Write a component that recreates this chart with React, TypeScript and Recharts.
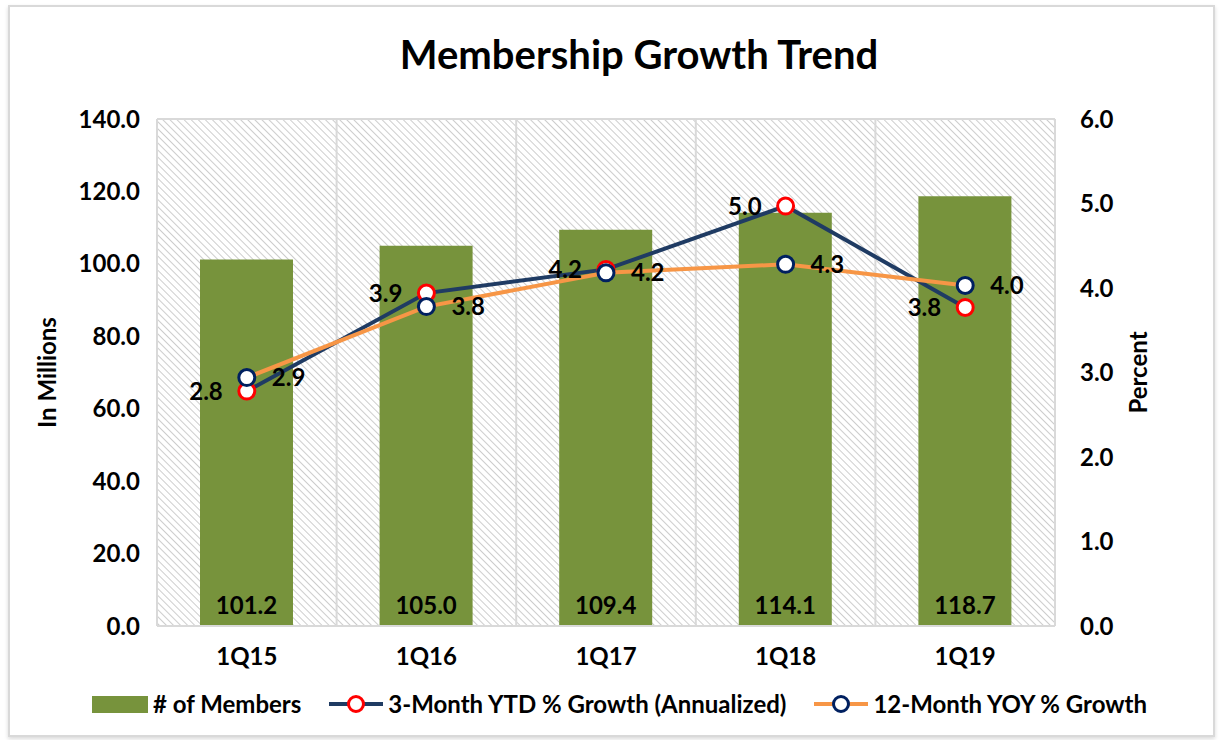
import React from 'react'
import {
  ComposedChart,
  Bar,
  Line,
  XAxis,
  YAxis,
  CartesianGrid,
  Legend,
  LabelList,
} from 'recharts'

const quarters = ['1Q15', '1Q16', '1Q17', '1Q18', '1Q19']
const members = [101.2, 105.0, 109.4, 114.1, 118.7]
const ytdGrowth = [2.78, 3.94, 4.22, 4.97, 3.77]
const yoyGrowth = [2.94, 3.78, 4.18, 4.28, 4.03]
const leftTicks = [0, 20, 40, 60, 80, 100, 120, 140]
const rightTicks = [0, 1, 2, 3, 4, 5, 6]

const FONT = 'Lato, "Open Sans", sans-serif'
const GREEN = '#77933c'
const NAVY = '#1f3b63'
const ORANGE = '#f79646'
const RED = '#ff0000'
const MARKER_NAVY = '#002060'

const data = quarters.map((q, i) => ({
  quarter: q,
  members: members[i],
  ytd: ytdGrowth[i],
  yoy: yoyGrowth[i],
}))

const fmt1 = (v: any) => Number(v).toFixed(1)

const legendItems = [
  { name: '# of Members', kind: 'bar', color: GREEN, marker: '' },
  { name: '3-Month YTD % Growth (Annualized)', kind: 'line', color: NAVY, marker: RED },
  { name: '12-Month YOY % Growth', kind: 'line', color: ORANGE, marker: MARKER_NAVY },
]

function LegendContent() {
  return (
    <div
      style={{
        display: 'flex',
        justifyContent: 'center',
        alignItems: 'center',
        gap: 28,
        fontFamily: FONT,
        fontWeight: 700,
        fontSize: 24,
        color: '#000',
        marginLeft: 48,
      }}
    >
      {legendItems.map((it) => (
        <div key={it.name} style={{ display: 'flex', alignItems: 'center', gap: 5 }}>
          {it.kind === 'bar' ? (
            <svg width={56} height={18}>
              <rect x={0} y={1} width={56} height={17} fill={it.color} />
            </svg>
          ) : (
            <svg width={54} height={20}>
              <line x1={0} y1={10} x2={54} y2={10} stroke={it.color} strokeWidth={4} />
              <circle cx={27} cy={10} r={7.5} fill="#fff" stroke={it.marker} strokeWidth={3} />
            </svg>
          )}
          <span>{it.name}</span>
        </div>
      ))}
    </div>
  )
}

export default function App() {
  const tickStyle = { fontFamily: FONT, fontWeight: 700, fontSize: 24, fill: '#000' }
  const titleStyle = { textAnchor: 'middle', fontFamily: FONT, fontWeight: 700, fontSize: 24, fill: '#000' }
  const valueStyle = { fontFamily: FONT, fontWeight: 700, fontSize: 24, fill: '#000' }
  return (
    <div style={{ position: 'absolute', left: 0, top: 0, width: 1221, height: 740, background: '#fff' }}>
      <div
        style={{
          position: 'absolute',
          left: 8,
          top: 5,
          width: 1203,
          height: 728,
          border: '2px solid #d9d9d9',
          boxShadow: '0 2px 4px rgba(0,0,0,0.15)',
          background: '#fff',
        }}
      />
      <div
        style={{
          position: 'absolute',
          left: 0,
          width: 1278,
          top: 30,
          textAlign: 'center',
          fontFamily: FONT,
          fontWeight: 700,
          fontSize: 40,
          color: '#000',
        }}
      >
        Membership Growth Trend
      </div>
      <div style={{ position: 'absolute', left: 0, top: 0 }}>
        <ComposedChart
          width={1221}
          height={740}
          data={data}
          margin={{ top: 119, right: 60, bottom: 55, left: 30 }}
        >
          <defs>
            <pattern
              id="hatch"
              width={5}
              height={5}
              patternUnits="userSpaceOnUse"
              patternTransform="rotate(-45)"
            >
              <rect width={5} height={5} fill="#fff" />
              <line x1={0} y1={0} x2={0} y2={5} stroke="#c4c4c4" strokeWidth={1.7} />
            </pattern>
          </defs>
          <CartesianGrid
            fill="url(#hatch)"
            stroke="#d9d9d9"
            strokeWidth={2}
            verticalCoordinatesGenerator={({ offset }: any) =>
              quarters.map((_, i) => offset.left + (i * offset.width) / quarters.length).concat(offset.left + offset.width)
            }
          />
          <XAxis
            dataKey="quarter"
            tick={tickStyle}
            tickLine={false}
            axisLine={{ stroke: '#d9d9d9', strokeWidth: 2 }}
            tickMargin={16}
          />
          <YAxis
            yAxisId="left"
            width={127}
            domain={[0, 140]}
            ticks={leftTicks}
            tickFormatter={fmt1}
            tick={tickStyle}
            tickLine={false}
            axisLine={false}
            tickSize={0}
            tickMargin={17}
            label={{ value: 'In Millions', angle: -90, position: 'insideLeft', offset: 17, style: titleStyle }}
          />
          <YAxis
            yAxisId="right"
            orientation="right"
            width={106}
            domain={[0, 6]}
            ticks={rightTicks}
            tickFormatter={fmt1}
            tick={tickStyle}
            tickLine={false}
            axisLine={false}
            tickSize={0}
            tickMargin={25}
            label={{ value: 'Percent', angle: -90, position: 'insideRight', offset: 23, style: titleStyle }}
          />
          <Legend verticalAlign="bottom" content={<LegendContent />} wrapperStyle={{ bottom: 22 }} />
          <Bar
            yAxisId="left"
            dataKey="members"
            name="# of Members"
            fill={GREEN}
            barSize={93}
            isAnimationActive={false}
          >
            <LabelList dataKey="members" position="insideBottom" offset={12} formatter={fmt1} style={valueStyle} />
          </Bar>
          <Line
            yAxisId="right"
            dataKey="ytd"
            name="3-Month YTD % Growth (Annualized)"
            stroke={NAVY}
            strokeWidth={4}
            dot={{ r: 8, fill: '#fff', stroke: RED, strokeWidth: 3 }}
            activeDot={false}
            isAnimationActive={false}
          >
            <LabelList dataKey="ytd" position="left" offset={24} formatter={fmt1} style={valueStyle} />
          </Line>
          <Line
            yAxisId="right"
            dataKey="yoy"
            name="12-Month YOY % Growth"
            stroke={ORANGE}
            strokeWidth={4}
            dot={{ r: 8, fill: '#fff', stroke: MARKER_NAVY, strokeWidth: 3 }}
            activeDot={false}
            isAnimationActive={false}
          >
            <LabelList dataKey="yoy" position="right" offset={25} formatter={fmt1} style={valueStyle} />
          </Line>
        </ComposedChart>
      </div>
    </div>
  )
}
